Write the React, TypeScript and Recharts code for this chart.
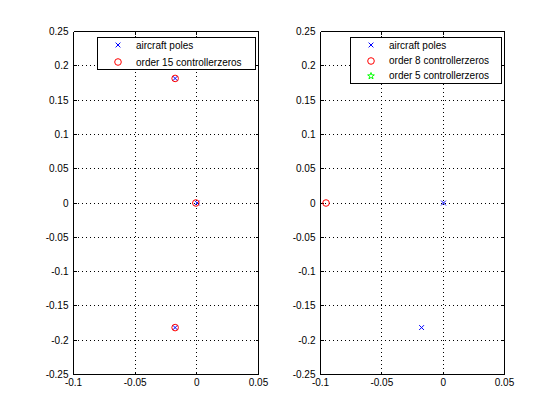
import React from 'react';
import { ScatterChart, Scatter, XAxis, YAxis, CartesianGrid, Legend } from 'recharts';

const xTicks = [-0.1, -0.05, 0, 0.05];
const yTicks = [-0.25, -0.2, -0.15, -0.1, -0.05, 0, 0.05, 0.1, 0.15, 0.2, 0.25];
const xDomain: [number, number] = [-0.1, 0.05];
const yDomain: [number, number] = [-0.25, 0.25];

const aircraftPoles = [
  { x: -0.0176, y: 0.1816 },
  { x: 0.0003, y: 0 },
  { x: -0.0176, y: -0.1816 },
];
const order15Zeros = [
  { x: -0.0176, y: 0.1816 },
  { x: -0.0008, y: 0 },
  { x: -0.0176, y: -0.1816 },
];
const order8Zeros = [{ x: -0.0955, y: 0 }];
const order5Zeros: { x: number; y: number }[] = [];

const leftLegendNames = ['aircraft poles', 'order 15 controllerzeros'];
const rightLegendNames = ['aircraft poles', 'order 8 controllerzeros', 'order 5 controllerzeros'];

const FONT = '"Liberation Sans", Arial, Helvetica, sans-serif';
const BLUE = '#0000ff';
const RED = '#ff0000';
const GREEN = '#00ff00';

const CrossShape = (props: any) => {
  const { cx, cy } = props;
  const s = 2.4;
  return (
    <path
      d={`M${cx - s},${cy - s}L${cx + s},${cy + s}M${cx - s},${cy + s}L${cx + s},${cy - s}`}
      stroke={BLUE}
      strokeWidth={1}
      fill="none"
    />
  );
};

const CircleShape = (props: any) => {
  const { cx, cy } = props;
  return <circle cx={cx} cy={cy} r={3.3} stroke={RED} strokeWidth={1} fill="none" />;
};

const starPath = (cx: number, cy: number, r: number) => {
  const pts: string[] = [];
  for (let i = 0; i < 10; i++) {
    const rad = i % 2 === 0 ? r : r * 0.4;
    const a = -Math.PI / 2 + (i * Math.PI) / 5;
    pts.push(`${cx + rad * Math.cos(a)},${cy + rad * Math.sin(a)}`);
  }
  return 'M' + pts.join('L') + 'Z';
};

const StarShape = (props: any) => {
  const { cx, cy } = props;
  return <path d={starPath(cx, cy, 3.5)} stroke={GREEN} strokeWidth={1} fill="none" />;
};

const NoTick = () => <g />;

const markerFor = (kind: string) => {
  if (kind === 'x') return <CrossShape cx={5} cy={5} />;
  if (kind === 'o') return <CircleShape cx={5} cy={5} />;
  return <StarShape cx={5} cy={5} />;
};

const makeLegend = (names: string[], kinds: string[], rows: number[]) => () => (
  <div
    style={{
      position: 'relative',
      width: '100%',
      height: '100%',
      boxSizing: 'border-box',
      border: '1px solid #000',
      background: '#fff',
      fontFamily: FONT,
      fontSize: 10,
      color: '#000',
    }}
  >
    {names.map((n, i) => (
      <React.Fragment key={n}>
        <svg
          width={10}
          height={10}
          style={{ position: 'absolute', left: 15, top: rows[i] - 6, overflow: 'visible' }}
        >
          {markerFor(kinds[i])}
        </svg>
        <div
          style={{
            position: 'absolute',
            left: 38,
            top: rows[i] - 7.5,
            height: 14,
            lineHeight: '14px',
            whiteSpace: 'nowrap',
          }}
        >
          {n}
        </div>
      </React.Fragment>
    ))}
  </div>
);

const tickStyle = { fill: '#000', fontSize: 10, fontFamily: FONT };

const axes = (yWidth: number) => [
  <XAxis
    key="xb"
    xAxisId={0}
    dataKey="x"
    type="number"
    domain={xDomain}
    ticks={xTicks}
    interval={0}
    allowDataOverflow
    height={45.5}
    tickLine={false}
    tickSize={0}
    tickMargin={4}
    axisLine={{ stroke: '#000' }}
    tick={tickStyle}
  />,
  <XAxis
    key="xt"
    xAxisId="top"
    orientation="top"
    mirror
    dataKey="x"
    type="number"
    domain={xDomain}
    ticks={xTicks}
    interval={0}
    allowDataOverflow
    height={1}
    tickSize={3}
    tickLine={{ stroke: '#000' }}
    axisLine={{ stroke: '#000' }}
    tick={NoTick}
  />,
  <XAxis
    key="xb2"
    xAxisId="bot2"
    orientation="bottom"
    mirror
    dataKey="x"
    type="number"
    domain={xDomain}
    ticks={xTicks}
    interval={0}
    allowDataOverflow
    height={1}
    tickSize={3}
    tickLine={{ stroke: '#000' }}
    axisLine={false}
    tick={NoTick}
  />,
  <YAxis
    key="yl"
    yAxisId={0}
    dataKey="y"
    type="number"
    domain={yDomain}
    ticks={yTicks}
    interval={0}
    allowDataOverflow
    width={yWidth}
    tickLine={false}
    tickSize={0}
    tickMargin={5}
    axisLine={{ stroke: '#000' }}
    tick={tickStyle}
  />,
  <YAxis
    key="yr"
    yAxisId="right"
    orientation="right"
    mirror
    dataKey="y"
    type="number"
    domain={yDomain}
    ticks={yTicks}
    interval={0}
    allowDataOverflow
    width={1}
    tickSize={3}
    tickLine={{ stroke: '#000' }}
    axisLine={{ stroke: '#000' }}
    tick={NoTick}
  />,
  <YAxis
    key="yl2"
    yAxisId="left2"
    orientation="left"
    mirror
    dataKey="y"
    type="number"
    domain={yDomain}
    ticks={yTicks}
    interval={0}
    allowDataOverflow
    width={1}
    tickSize={3}
    tickLine={{ stroke: '#000' }}
    axisLine={false}
    tick={NoTick}
  />,
];

const LeftLegend = makeLegend(leftLegendNames, ['x', 'o'], [8, 25]);
const RightLegend = makeLegend(rightLegendNames, ['x', 'o', 'star'], [8, 23.5, 38.5]);

const css = '.recharts-wrapper svg line { shape-rendering: crispEdges; }';

export default function App() {
  return (
    <div style={{ position: 'absolute', left: 0, top: 0, width: 560, height: 420, background: '#fff' }}>
      <style>{css}</style>
      <div style={{ position: 'absolute', left: 0, top: 0 }}>
        <ScatterChart width={280} height={420} margin={{ top: 31.5, right: 21.5, bottom: 0, left: 0 }}>
          <CartesianGrid stroke="#000" strokeDasharray="1 3" />
          {axes(73.5)}
          <Scatter name={leftLegendNames[0]} data={aircraftPoles} shape={CrossShape} fill={BLUE} isAnimationActive={false} />
          <Scatter name={leftLegendNames[1]} data={order15Zeros} shape={CircleShape} fill={RED} isAnimationActive={false} />
          <Legend
            layout="vertical"
            align="center"
            verticalAlign="middle"
            content={LeftLegend}
            wrapperStyle={{ left: 97, top: 37, width: 159, height: 33, margin: 0 }}
          />
        </ScatterChart>
      </div>
      <div style={{ position: 'absolute', left: 280, top: 0 }}>
        <ScatterChart width={280} height={420} margin={{ top: 31.5, right: 55.5, bottom: 0, left: 0 }}>
          <CartesianGrid stroke="#000" strokeDasharray="1 3" />
          {axes(40.5)}
          <Scatter name={rightLegendNames[0]} data={aircraftPoles} shape={CrossShape} fill={BLUE} isAnimationActive={false} />
          <Scatter name={rightLegendNames[1]} data={order8Zeros} shape={CircleShape} fill={RED} isAnimationActive={false} />
          <Scatter name={rightLegendNames[2]} data={order5Zeros} shape={StarShape} fill={GREEN} isAnimationActive={false} />
          <Legend
            layout="vertical"
            align="center"
            verticalAlign="middle"
            content={RightLegend}
            wrapperStyle={{ left: 70, top: 37, width: 152, height: 47, margin: 0 }}
          />
        </ScatterChart>
      </div>
    </div>
  );
}
